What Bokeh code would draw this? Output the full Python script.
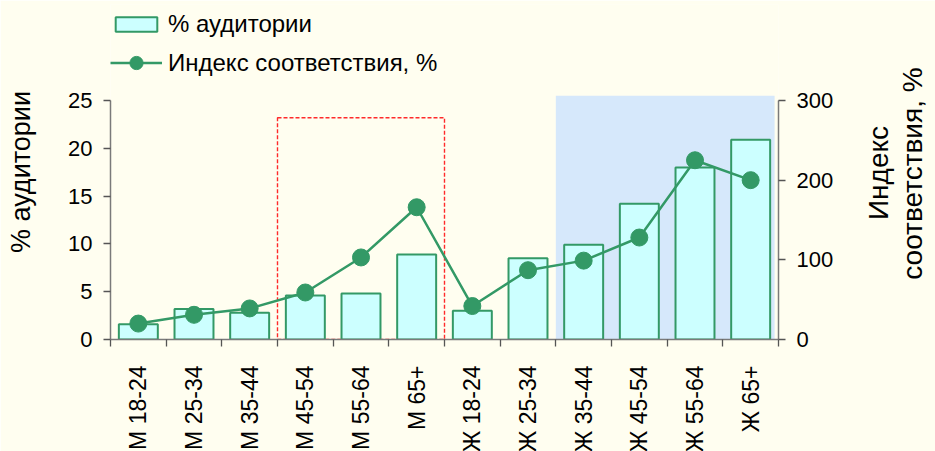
import math
from bokeh.plotting import figure
from bokeh.models import (Range1d, LinearAxis, FixedTicker, Legend, LegendItem,
                          ColumnDataSource)
from bokeh.embed import file_html
from bokeh.resources import INLINE

# ---------------- data ----------------
categories = ["М 18-24", "М 25-34", "М 35-44", "М 45-54", "М 55-64", "М 65+",
              "Ж 18-24", "Ж 25-34", "Ж 35-44", "Ж 45-54", "Ж 55-64", "Ж 65+"]
audience = [1.6, 3.2, 2.8, 4.6, 4.8, 8.9, 3.0, 8.5, 9.9, 14.2, 18.0, 20.9]
index_pct = [20, 31, 39, 59, 103, 166, 42, 87, 99, 128, 225, 200]
left_ticks = [0, 5, 10, 15, 20, 25]
right_ticks = [0, 100, 200, 300]
red_group = ["М 45-54", "М 65+"]     # dashed frame (first..last category)
red_top = 23.2                         # in % аудитории units
blue_group = ["Ж 35-44", "Ж 65+"]    # shaded region (first..last category)
blue_top = 25.5

FONT = "Liberation Sans"
GREEN = "#339966"
BG = "#FFFEF0"

xs = list(range(len(categories)))
FRAME_H = 335
PX_PER_UNIT = 9.56                     # left axis: 25 units over 239 px
left_max = FRAME_H / PX_PER_UNIT
right_max = left_max / 25 * 300

p = figure(frame_width=668, frame_height=FRAME_H,
           x_range=Range1d(-0.5, len(categories) - 0.5),
           y_range=Range1d(0, left_max),
           output_backend="svg", toolbar_location=None,
           min_border_left=110, min_border_right=150,
           min_border_top=4, min_border_bottom=108)
p.extra_y_ranges = {"idx": Range1d(0, right_max)}
p.background_fill_color = BG
p.border_fill_color = BG
p.outline_line_color = None
p.xgrid.visible = False
p.ygrid.visible = False

# highlight regions
r0, r1 = categories.index(red_group[0]), categories.index(red_group[1])
b0, b1 = categories.index(blue_group[0]), categories.index(blue_group[1])
p.quad(left=[b0 - 0.5], right=[b1 + 0.43], bottom=[0], top=[blue_top],
       fill_color="#D6E8FB", line_color=None)
p.quad(left=[r0 - 0.5], right=[r1 + 0.5], bottom=[0], top=[red_top],
       fill_alpha=0, line_color="#FF2A2A", line_width=1.4, line_dash="4 2")

src = ColumnDataSource(dict(x=xs, aud=audience, idx=index_pct))
bars = p.vbar(x="x", top="aud", width=0.7, bottom=0, source=src,
              fill_color="#CCFFFF", line_color=GREEN, line_width=2)
line = p.line(x="x", y="idx", source=src, y_range_name="idx",
              line_color=GREEN, line_width=2.5)
pts = p.scatter(x="x", y="idx", source=src, y_range_name="idx", size=17,
                fill_color=GREEN, line_color=GREEN)

# axes
xa = p.xaxis[0]
xa.ticker = FixedTicker(ticks=xs, minor_ticks=[i - 0.5 for i in range(len(categories) + 1)])
xa.major_label_overrides = {i: c for i, c in enumerate(categories)}
xa.major_label_orientation = math.pi / 2
xa.major_tick_out = 0
xa.major_tick_in = 0
xa.minor_tick_out = 7
xa.minor_tick_in = 0
xa.major_label_standoff = 19

ya = p.yaxis[0]
ya.ticker = FixedTicker(ticks=left_ticks, minor_ticks=[])
ya.bounds = (0, 25)
ya.axis_label = "% аудитории"
ya.axis_label_standoff = 29
ya.axis_label_text_font = FONT
ya.axis_label_text_font_size = "27px"
ya.axis_label_text_font_style = "normal"
ya.axis_label_text_color = "#000000"

yr = LinearAxis(y_range_name="idx", ticker=FixedTicker(ticks=right_ticks, minor_ticks=[]),
                bounds=(0, 300))
p.add_layout(yr, "right")

for ax in (xa, ya, yr):
    ax.axis_line_color = "#7A7A7A"
    ax.axis_line_width = 1.5
    ax.major_tick_line_color = "#555555"
    ax.minor_tick_line_color = "#555555"
    ax.major_tick_line_width = 1.3
    ax.minor_tick_line_width = 1.3
    ax.major_label_text_font = FONT
    ax.major_label_text_font_size = "22px"
    ax.major_label_text_color = "#000000"
xa.major_label_text_font_size = "23px"
for ax in (ya, yr):
    ax.major_tick_out = 7
    ax.major_tick_in = 0
    ax.minor_tick_out = 0
    ax.major_label_standoff = 11


def right_title(text, anchor, standoff):
    # rotated text (reads bottom-to-top), starting at the anchor value
    return LinearAxis(y_range_name="idx",
                      ticker=FixedTicker(ticks=[anchor], minor_ticks=[]),
                      major_label_overrides={anchor: text},
                      major_label_orientation=math.pi / 2,
                      major_label_standoff=standoff,
                      major_label_text_font=FONT, major_label_text_font_size="28px",
                      major_label_text_color="#000000",
                      axis_line_color=None, major_tick_line_color=None,
                      minor_tick_line_color=None,
                      major_tick_out=0, major_tick_in=0, minor_tick_out=0)


p.add_layout(right_title("Индекс", 150, 42), "right")
p.add_layout(right_title("соответствия, %", 75, 0), "right")

# legends (inside the tall frame, above the plotted region)
common = dict(glyph_width=52, label_standoff=6, padding=0, spacing=0, margin=0,
              background_fill_alpha=0, border_line_alpha=0,
              label_text_font=FONT, label_text_font_size="24px",
              label_text_color="#000000")
leg1 = Legend(items=[LegendItem(label="% аудитории", renderers=[bars])],
              location=(0, 301), glyph_height=18, **common)
leg2 = Legend(items=[LegendItem(label="Индекс соответствия, %", renderers=[line, pts])],
              location=(0, 260), glyph_height=33, **common)
p.add_layout(leg1)
p.add_layout(leg2)

open("out.html", "w").write(file_html(p, INLINE))
